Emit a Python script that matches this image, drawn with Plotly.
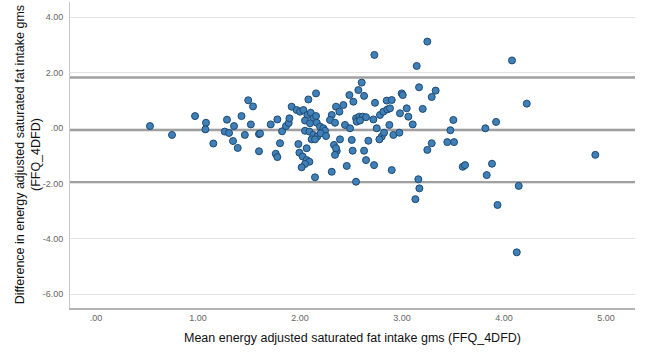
import plotly.graph_objects as go

# Bland-Altman data: mean of the two methods (x) and difference (y)
mean_vals = [
    0.529, 0.745, 0.971, 1.078, 1.072, 1.150, 1.284, 1.262, 1.304, 1.353,
    1.343, 1.389, 1.426, 1.492, 1.539, 1.518, 1.459, 1.598, 1.608, 1.598,
    1.713, 1.778, 1.824, 1.804, 1.762, 1.778, 1.863, 1.889, 1.896,
    1.918, 1.967, 2.000, 2.033, 2.082, 2.157, 2.072, 2.105, 2.131, 2.157,
    2.049, 2.098, 2.164, 2.196, 2.229, 2.245, 2.049, 2.092, 2.131, 2.170,
    2.114, 2.147, 2.203, 2.255, 1.984, 2.065, 1.994, 2.026, 2.065, 2.092,
    2.049, 2.016, 2.147,
    2.311, 2.294, 2.353, 2.386, 2.343, 2.425, 2.441, 2.484, 2.523, 2.572,
    2.605, 2.628, 2.490, 2.392, 2.333, 2.360, 2.353, 2.343, 2.507, 2.516,
    2.458, 2.549, 2.582, 2.614, 2.647, 2.556, 2.588, 2.670, 2.628, 2.647,
    2.311, 2.549, 2.729,
    2.735, 2.719, 2.784, 2.817, 2.856, 2.882, 2.850, 2.899, 2.752, 2.801,
    2.778, 2.824, 2.876, 2.915, 2.726, 2.899, 2.997, 3.007, 2.980, 2.974,
    3.046, 3.062, 3.105, 3.144, 3.167, 3.203, 3.248, 3.291, 3.330, 3.291,
    3.248, 3.444, 3.510, 3.474, 3.503, 3.595, 3.618, 3.160, 3.170, 3.131,
    3.817, 3.922, 3.882, 3.830, 3.936, 4.078, 4.223, 4.144, 4.125, 4.895,
]
diff_vals = [
    0.07, -0.25, 0.43, 0.19, -0.05, -0.56, 0.30, -0.13, -0.18, 0.07,
    -0.47, -0.72, 0.43, 1.00, 0.78, 0.13, -0.25, -0.22, -0.20, -0.84,
    0.13, 0.31, -0.12, -0.55, -0.93, -1.05, 0.07, 0.18, 0.35,
    0.77, 0.65, 0.59, 0.65, 1.03, 1.25, 0.47, 0.55, 0.35, 0.43,
    0.27, 0.17, 0.19, 0.05, -0.01, -0.10, -0.10, -0.13, -0.25, -0.31,
    -0.41, -0.41, -0.19, -0.29, -0.58, -0.73, -0.89, -1.03, -1.16, -1.22,
    -1.30, -1.42, -1.78,
    0.47, 0.29, 0.77, 0.59, 0.19, 0.83, 0.11, 1.19, 0.95, 1.37,
    1.64, 1.16, -0.01, -0.41, -0.61, -0.83, -0.73, -0.97, -0.43, -0.82,
    -1.37, 0.35, 0.41, 0.41, 0.39, 0.23, 0.27, -0.46, -0.82, -1.16,
    -1.58, -1.94, 2.64,
    0.91, 0.31, 0.47, 0.59, 0.67, 0.71, 0.99, 1.01, -0.01, -0.31,
    -0.41, -0.17, 0.11, -0.25, -1.34, -1.52, 1.25, 1.19, 0.53, -0.17,
    0.71, 0.41, 0.13, 2.24, 1.47, 0.69, 3.12, 1.12, 1.35, -0.55,
    -0.79, -0.51, -0.51, -0.08, 0.29, -1.40, -1.34, -1.85, -2.18, -2.57,
    -0.01, 0.22, -1.29, -1.70, -2.78, 2.44, 0.88, -2.09, -4.49, -0.97,
]

mean_diff = -0.07
upper_loa = 1.82
lower_loa = -1.96

x_tickvals = [0, 1, 2, 3, 4, 5]
x_ticktext = [".00", "1.00", "2.00", "3.00", "4.00", "5.00"]
y_tickvals = [4, 2, 0, -2, -4, -6]
y_ticktext = ["4.00", "2.00", ".00", "-2.00", "-4.00", "-6.00"]

x_range = [-0.255, 5.284]
y_range = [-6.5, 4.55]

fig = go.Figure()
fig.add_trace(go.Scatter(
    x=mean_vals, y=diff_vals, mode="markers",
    marker=dict(size=7, color="#3f80b8", line=dict(color="#1d4a72", width=1)),
    showlegend=False,
))

for val in [upper_loa, mean_diff, lower_loa]:
    fig.add_shape(type="line", xref="paper", x0=0, x1=1, yref="y", y0=val, y1=val,
                  line=dict(color="#a0a0a0", width=2.5), layer="below")

font_family = "Liberation Sans, Arial, sans-serif"

fig.update_layout(
    width=645, height=354,
    margin=dict(l=70, r=10, t=2, b=46),
    paper_bgcolor="white", plot_bgcolor="white",
    font=dict(family=font_family),
    xaxis=dict(range=x_range, tickvals=x_tickvals, ticktext=x_ticktext,
               showgrid=False, zeroline=False, showline=True, linecolor="#b4b4b4",
               linewidth=1.5, tickfont=dict(size=9, color="#666"), ticks=""),
    yaxis=dict(range=y_range, tickvals=y_tickvals, ticktext=y_ticktext,
               showgrid=True, gridcolor="#e2e2e2", gridwidth=1.2, zeroline=False,
               showline=True, linecolor="#c8c8c8", linewidth=1,
               tickfont=dict(size=9, color="#666"), ticks="", ticklabelstandoff=4),
    annotations=[
        dict(text="Mean energy adjusted saturated fat intake gms (FFQ_4DFD)",
             xref="paper", yref="paper", x=0.5, y=-0.098, xanchor="center", yanchor="middle",
             showarrow=False, font=dict(size=12.5, color="#111", family=font_family)),
        dict(text="Difference in energy adjusted saturated fat intake gms<br>(FFQ_4DFD)",
             xref="paper", yref="paper", x=-0.074, y=0.5, xanchor="center", yanchor="middle",
             textangle=-90, showarrow=False,
             font=dict(size=12.5, color="#111", family=font_family)),
    ],
)

fig.write_html("out.html")
